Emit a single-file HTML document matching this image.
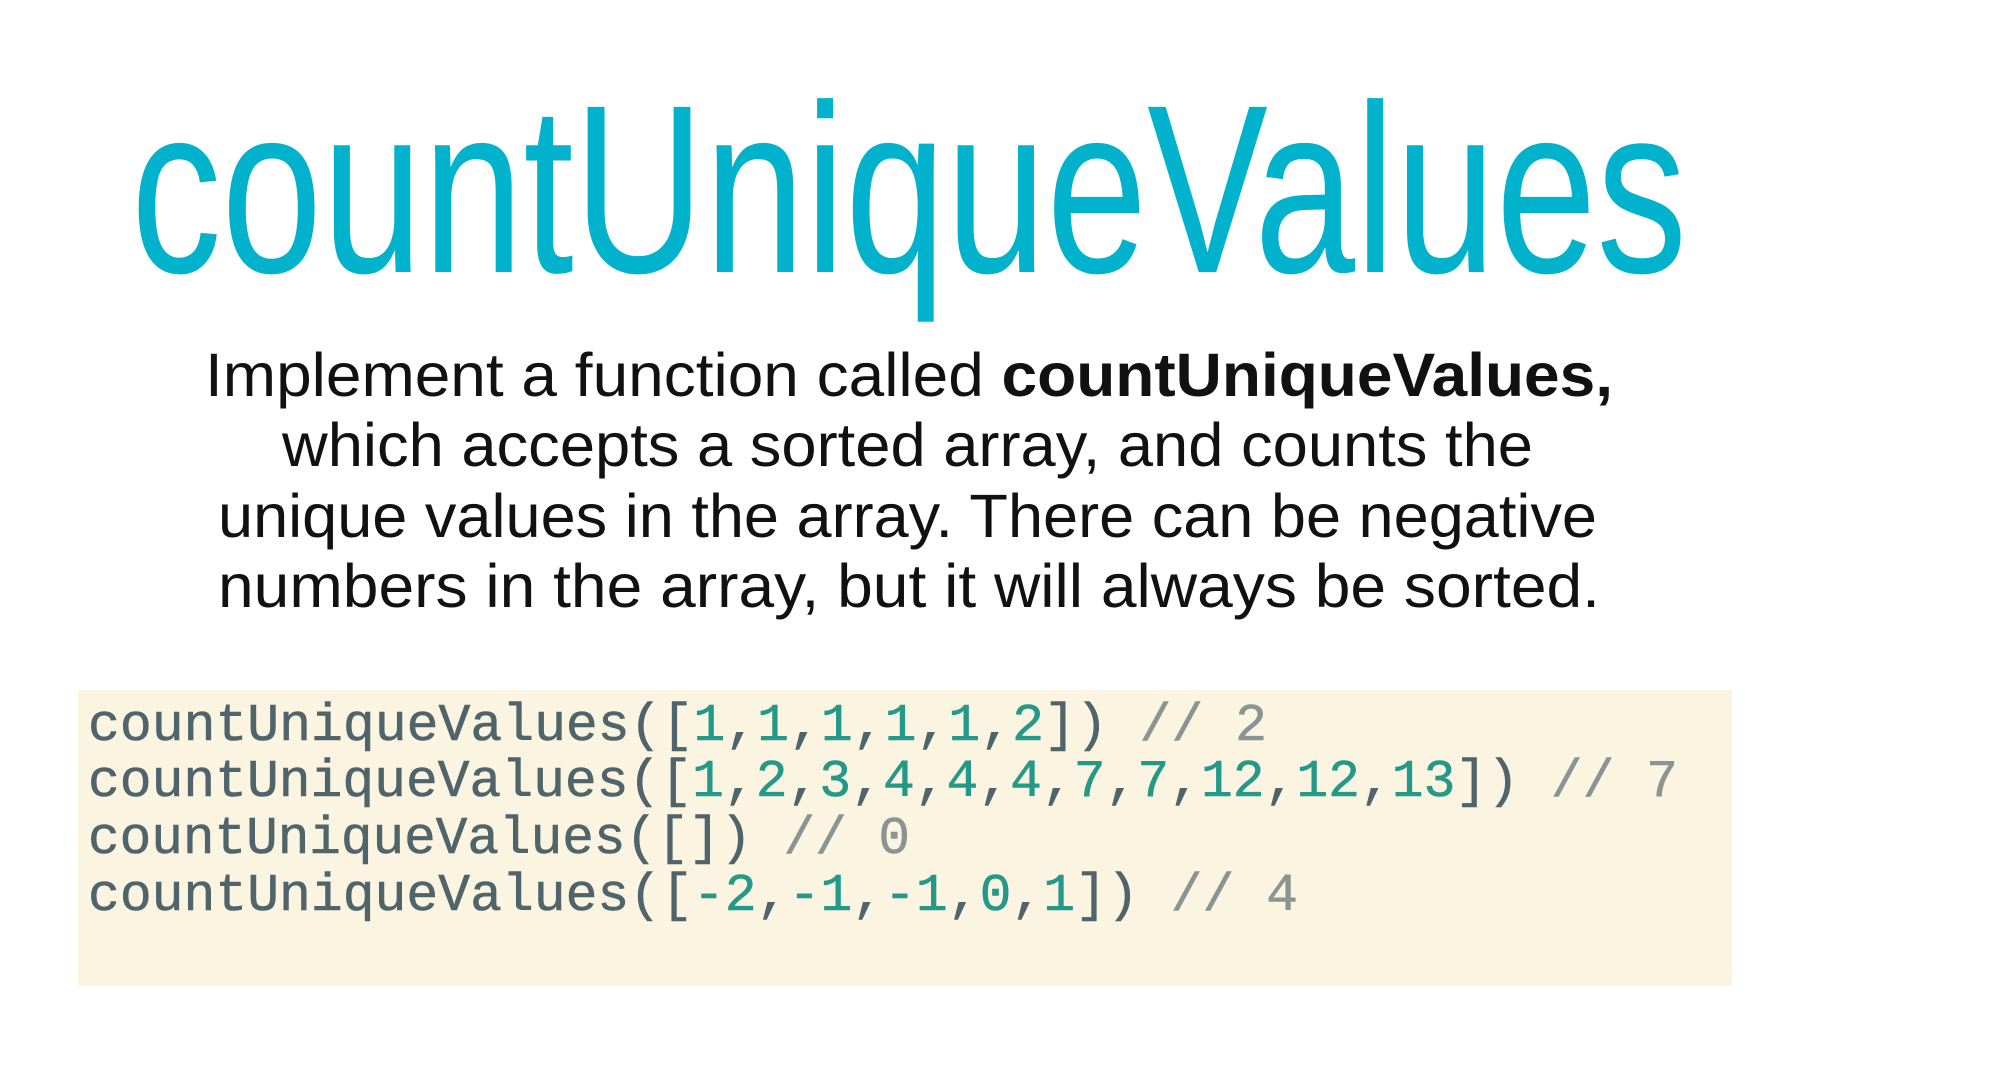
<!DOCTYPE html>
<html><head><meta charset="utf-8"><style>
html,body{margin:0;padding:0;background:#fff;}
svg{display:block}
</style></head><body>
<svg width="1998" height="1068" viewBox="0 0 1998 1068" xmlns="http://www.w3.org/2000/svg">
<rect width="1998" height="1068" fill="#fff"/>
<text x="131" y="272" font-family="Liberation Sans, sans-serif" font-size="240" fill="#00b2cb" textLength="1556" lengthAdjust="spacingAndGlyphs">countUniqueValues</text>
<g font-family="Liberation Sans, sans-serif" font-size="61" fill="#111">
<text x="205" y="396" textLength="1408" lengthAdjust="spacingAndGlyphs">Implement a function called <tspan font-weight="bold">countUniqueValues,</tspan></text>
<text x="282" y="466" textLength="1251" lengthAdjust="spacingAndGlyphs">which accepts a sorted array, and counts the</text>
<text x="218" y="537" textLength="1379" lengthAdjust="spacingAndGlyphs">unique values in the array. There can be negative</text>
<text x="218" y="607" textLength="1382" lengthAdjust="spacingAndGlyphs">numbers in the array, but it will always be sorted.</text>
</g>
<rect x="78" y="690" width="1654" height="296" fill="#fbf4e1"/>
<g font-family="Liberation Mono, monospace" font-size="53" fill="#4f646b" stroke="#4f646b" stroke-width="0.6" xml:space="preserve">
<text x="88" y="740" textLength="1179" lengthAdjust="spacingAndGlyphs">countUniqueValues([<tspan fill="#24998a" stroke="#24998a">1</tspan>,<tspan fill="#24998a" stroke="#24998a">1</tspan>,<tspan fill="#24998a" stroke="#24998a">1</tspan>,<tspan fill="#24998a" stroke="#24998a">1</tspan>,<tspan fill="#24998a" stroke="#24998a">1</tspan>,<tspan fill="#24998a" stroke="#24998a">2</tspan>]) <tspan fill="#8a9494" stroke="#8a9494">// 2</tspan></text>
<text x="88" y="796" textLength="1590" lengthAdjust="spacingAndGlyphs">countUniqueValues([<tspan fill="#24998a" stroke="#24998a">1</tspan>,<tspan fill="#24998a" stroke="#24998a">2</tspan>,<tspan fill="#24998a" stroke="#24998a">3</tspan>,<tspan fill="#24998a" stroke="#24998a">4</tspan>,<tspan fill="#24998a" stroke="#24998a">4</tspan>,<tspan fill="#24998a" stroke="#24998a">4</tspan>,<tspan fill="#24998a" stroke="#24998a">7</tspan>,<tspan fill="#24998a" stroke="#24998a">7</tspan>,<tspan fill="#24998a" stroke="#24998a">12</tspan>,<tspan fill="#24998a" stroke="#24998a">12</tspan>,<tspan fill="#24998a" stroke="#24998a">13</tspan>]) <tspan fill="#8a9494" stroke="#8a9494">// 7</tspan></text>
<text x="88" y="853" textLength="822" lengthAdjust="spacingAndGlyphs">countUniqueValues([]) <tspan fill="#8a9494" stroke="#8a9494">// 0</tspan></text>
<text x="88" y="910" textLength="1210" lengthAdjust="spacingAndGlyphs">countUniqueValues([<tspan fill="#24998a" stroke="#24998a">-2</tspan>,<tspan fill="#24998a" stroke="#24998a">-1</tspan>,<tspan fill="#24998a" stroke="#24998a">-1</tspan>,<tspan fill="#24998a" stroke="#24998a">0</tspan>,<tspan fill="#24998a" stroke="#24998a">1</tspan>]) <tspan fill="#8a9494" stroke="#8a9494">// 4</tspan></text>
</g>
</svg>
</body></html>
